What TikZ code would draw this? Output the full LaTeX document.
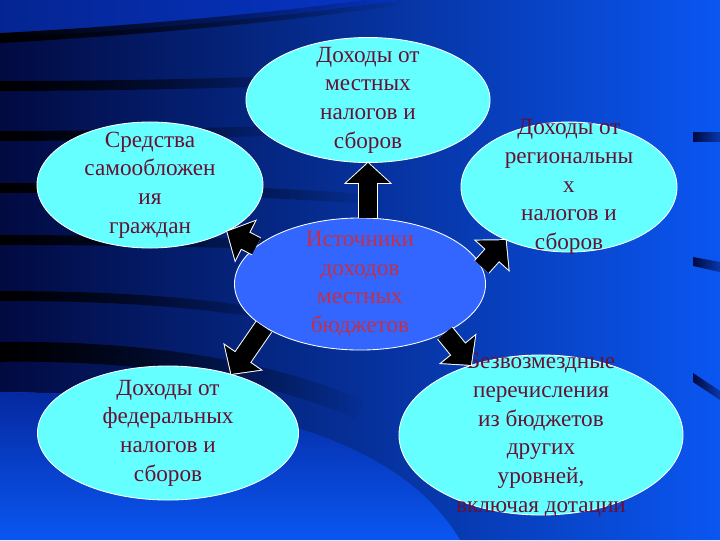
\documentclass[tikz,border=0pt]{standalone}
\usepackage{fontspec}
\setmainfont{Liberation Serif}
\usetikzlibrary{shapes.geometric,arrows.meta,fadings}

\definecolor{cyanfill}{HTML}{66FFFF}
\definecolor{hubfill}{HTML}{3366FF}
\definecolor{inktext}{HTML}{661133}
\definecolor{hubtext}{HTML}{C0304A}
\definecolor{navydark}{HTML}{020A40}
\definecolor{navymid}{HTML}{0636C8}
\definecolor{slideblue}{HTML}{0A56F2}

\tikzset{
  bubble/.style={ellipse, draw=white, line width=0.6pt, fill=cyanfill, inner sep=0pt},
  words/.style={text=inktext, align=center, font=\fontsize{16.5}{20.4}\selectfont},
  flow/.style={preaction={draw=white, line width=14.2pt, shorten >=-0.96pt, -{Triangle[length=15.9pt,width=33.5pt]}},
    draw=black, line width=12.8pt, -{Triangle[length=14.2pt,width=30pt]}},
  stripe/.style={draw=black, line width=7pt, path fading=east},
  bar/.style={left color=navydark, right color=slideblue!60!navydark},
}

\begin{document}
\begin{tikzpicture}[x=0.025cm, y=-0.025cm]
\useasboundingbox (0,0) rectangle (720,540);

% slide background
\fill[slideblue] (0,0) rectangle (720,540);
\shade[left color=navydark, middle color=navymid, right color=slideblue]
  (0,0) -- (720,0) -- (720,540) -- (460,540) .. controls (400,440) and (250,395) .. (0,392) -- cycle;
\shade[top color=navymid!70!navydark, bottom color=slideblue]
  (0,392) .. controls (250,395) and (400,440) .. (460,540) -- (0,540) -- cycle;
\shade[left color=navymid!60!navydark, right color=navymid]
  (0,0) -- (400,0) .. controls (300,15) and (150,30) .. (0,38) -- cycle;
\draw[stripe] (0,38) .. controls (150,30) and (300,15) .. (400,0);
\draw[stripe] (0,86) .. controls (100,86) and (200,84) .. (320,80);
\draw[stripe] (0,136) .. controls (100,136) and (200,133) .. (300,130);
\draw[stripe] (0,188) .. controls (120,188) and (250,190) .. (380,200);
\draw[stripe] (0,240) .. controls (100,240) and (220,242) .. (330,246);
\draw[stripe] (0,296) .. controls (100,296) and (200,300) .. (300,320);
\draw[stripe, line width=14pt] (0,352) .. controls (120,350) and (260,365) .. (360,410);
\shade[bar] (693,132) rectangle (720,141);
\shade[bar] (693,257) -- (720,262) -- (720,272) -- (693,266) -- cycle;
\shade[bar] (693,373) -- (720,391) -- (720,400) -- (693,382) -- cycle;

% ellipses
\node[bubble, minimum width=6.1cm, minimum height=3.125cm,
  label={[words]center:{Доходы от\\местных\\налогов и\\сборов}}] (local) at (368,100) {};
\node[bubble, minimum width=5.65cm, minimum height=3.15cm,
  label={[words]center:{Средства\\самообложен\\ия\\граждан}}] (self) at (150,185) {};
\node[bubble, minimum width=5.4cm, minimum height=3.25cm,
  label={[words]center:{Доходы от\\региональны\\х\\налогов и\\сборов}}] (region) at (569,187) {};
\node[bubble, fill=hubfill, minimum width=6.275cm, minimum height=3.3cm,
  label={[words, text=hubtext]center:{Источники\\доходов\\местных\\бюджетов}}] (hub) at (360,284) {};
\node[bubble, minimum width=6.525cm, minimum height=3.35cm,
  label={[words]center:{Доходы от\\федеральных\\налогов и\\сборов}}] (federal) at (168,433) {};
\node[bubble, minimum width=7.1cm, minimum height=4cm,
  label={[words]center:{Безвозмездные\\перечисления\\из бюджетов\\других\\уровней,\\включая дотации}}] (grants) at (541,435) {};

% arrows
\draw[flow] (local.south |- hub.north) -- (local.south);
\draw[flow] (hub.160) -- (self.-31);
\draw[flow] (hub.8) -- (region.220);
\draw[flow] (hub.204) -- (federal.43);
\draw[flow] (hub.-30) -- (grants.135);
\end{tikzpicture}
\end{document}
